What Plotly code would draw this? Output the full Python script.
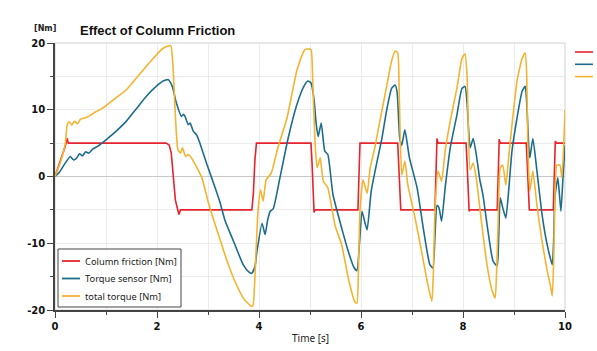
import plotly.graph_objects as go

# ---------------- data ----------------
t_friction = [0, 0.05, 0.12, 0.2, 0.24, 0.26, 0.3, 2.18, 2.24, 2.28, 2.32, 2.36, 2.4, 2.43, 2.46,
              3.86, 3.89, 3.92, 3.95, 5.02, 5.04, 5.06, 5.08, 5.1, 5.94, 5.96, 5.98,
              6.72, 6.74, 6.76, 6.78, 7.45, 7.47, 7.49, 7.51, 8.06, 8.08, 8.1, 8.12, 8.14,
              8.67, 8.69, 8.71, 8.73, 9.24, 9.26, 9.28, 9.3, 9.77, 9.79, 9.81, 9.83, 10]
friction = [0, 1.1, 2.6, 4.5, 5.7, 5.0, 5.0, 5.0, 4.7, 3.5, 0, -3.5, -4.8, -5.7, -5.0,
            -5.0, -2.5, 2.5, 5.0, 5.0, 2.0, -2.0, -5.4, -5.0, -5.0, 0, 5.0,
            5.0, 2.0, -2.0, -5.0, -5.0, 0, 5.7, 5.0, 5.0, 2.0, -2.0, -5.2, -5.0,
            -5.0, 0, 5.6, 5.0, 5.0, 2.0, -2.0, -5.0, -5.0, 0, 5.3, 5.0, 5.0]

t_sensor = [0, 0.1, 0.2, 0.3, 0.36, 0.42, 0.48, 0.54, 0.6, 0.66, 0.74, 0.85, 1.0, 1.2, 1.4, 1.6,
            1.8, 2.0, 2.12, 2.22, 2.3, 2.38, 2.48, 2.52, 2.55, 2.61, 2.65, 2.71, 2.78, 2.85,
            2.98, 3.14, 3.24, 3.33, 3.5, 3.69, 3.8, 3.86, 3.92, 3.96, 4.06, 4.12, 4.17, 4.22,
            4.28, 4.41, 4.57, 4.74, 4.88, 4.96, 5.02, 5.08, 5.12, 5.16, 5.22, 5.29, 5.35, 5.45,
            5.62, 5.75, 5.86, 5.92, 5.97, 6.02, 6.08, 6.12, 6.2, 6.3, 6.41, 6.5, 6.6, 6.67,
            6.71, 6.76, 6.8, 6.86, 6.95, 7.1, 7.22, 7.35, 7.41, 7.45, 7.49, 7.53, 7.58, 7.65,
            7.75, 7.88, 7.98, 8.04, 8.08, 8.14, 8.2, 8.27, 8.33, 8.39, 8.49, 8.59, 8.67, 8.7,
            8.73, 8.78, 8.84, 8.9, 8.96, 9.06, 9.16, 9.22, 9.25, 9.29, 9.31, 9.37, 9.45, 9.55,
            9.65, 9.75, 9.78, 9.8, 9.86, 9.92, 9.96, 10]
sensor = [0, 0.8, 2.0, 3.0, 2.5, 2.7, 3.4, 3.1, 3.7, 3.5, 4.1, 4.6, 5.5, 6.8, 8.3, 10.2,
          12.1, 13.6, 14.3, 14.5, 13.5, 11.0, 9.0, 9.3, 9.0, 7.8, 8.0, 6.8, 6.2, 4.8,
          1.8, -1.7, -4.0, -6.5, -9.7, -13.2, -14.3, -14.5, -13.5, -11.2, -7.0, -8.7, -6.5, -5.2,
          -4.8, -0.2, 5.7, 10.7, 13.5, 14.3, 14.0, 11.5, 8.0, 6.0, 8.0, 3.8, 3.3, -2.7,
          -7.7, -11.2, -13.6, -14.1, -10.0, -5.2, -7.0, -8.0, -2.2, 1.7, 5.7, 9.8, 13.2, 13.7,
          12.5, 5.7, 4.7, 7.0, 2.8, -1.7, -7.7, -13.2, -13.7, -9.0, -4.3, -4.7, -6.7, -1.7,
          4.3, 9.2, 13.2, 13.5, 11.0, 4.3, 5.7, 2.8, -0.5, -2.7, -8.2, -12.7, -13.4, -9.0,
          -3.2, -4.7, -6.2, -1.7, 3.8, 8.8, 12.8, 13.5, 11.0, 4.3, 2.8, 5.7, 0.8, -5.7,
          -10.2, -13.2, -9.0, -3.2, -0.2, -5.2, -0.2, 4.7]

t_total = [0, 0.1, 0.2, 0.24, 0.28, 0.33, 0.38, 0.44, 0.5, 0.6, 0.7, 0.8, 0.9, 1.0, 1.2, 1.4,
           1.6, 1.8, 2.0, 2.1, 2.2, 2.27, 2.31, 2.35, 2.41, 2.46, 2.5, 2.56, 2.62, 2.7, 2.88,
           3.0, 3.14, 3.24, 3.33, 3.5, 3.7, 3.84, 3.88, 3.92, 3.98, 4.03, 4.08, 4.14, 4.24,
           4.37, 4.55, 4.74, 4.88, 4.94, 5.02, 5.05, 5.1, 5.14, 5.2, 5.26, 5.35, 5.49, 5.62,
           5.75, 5.88, 5.92, 5.95, 5.98, 6.04, 6.12, 6.18, 6.27, 6.37, 6.47, 6.6, 6.67, 6.72,
           6.75, 6.8, 6.86, 6.92, 7.06, 7.2, 7.31, 7.39, 7.42, 7.45, 7.51, 7.58, 7.65, 7.75,
           7.88, 7.98, 8.04, 8.08, 8.14, 8.2, 8.26, 8.3, 8.37, 8.47, 8.57, 8.63, 8.66, 8.69,
           8.73, 8.78, 8.84, 8.9, 8.96, 9.06, 9.16, 9.22, 9.25, 9.27, 9.31, 9.37, 9.45, 9.55,
           9.65, 9.71, 9.75, 9.78, 9.8, 9.84, 9.9, 9.94, 10]
total = [0, 2.0, 4.8, 7.8, 8.2, 7.7, 8.3, 7.9, 8.6, 8.8, 9.2, 9.7, 10.1, 10.6, 11.8, 13.0,
         14.8, 16.6, 18.3, 19.1, 19.5, 19.6, 17.0, 10.7, 4.0, 3.5, 4.3, 3.0, 3.3, 2.5, -0.2,
         -3.7, -7.2, -9.5, -11.7, -15.2, -18.3, -19.4, -19.4, -15.0, -5.2, -2.0, -3.7, -0.5, 0.5,
         4.3, 8.8, 15.8, 18.8, 19.1, 19.0, 15.0, 5.0, 1.3, 2.8, -0.7, -1.7, -7.3, -10.2,
         -15.2, -18.8, -19.0, -14.0, -5.2, -0.5, -2.5, 1.3, 4.3, 8.3, 12.2, 17.3, 18.8, 18.5,
         12.0, 0.2, 2.3, -1.3, -6.2, -11.7, -16.2, -18.7, -14.0, -5.2, 0.8, -0.7, 3.8, 8.3,
         13.2, 17.7, 18.4, 15.0, 1.0, 2.0, -0.2, -2.7, -7.3, -13.2, -17.1, -18.2, -14.0, -6.7,
         1.3, 1.7, -1.3, 3.2, 7.7, 14.3, 17.7, 18.5, 15.0, 5.0, -2.2, 0.8, -4.3, -9.7,
         -14.1, -16.2, -17.9, -12.0, -4.3, 1.7, 1.7, -0.2, 10.0]

series_names = ["Column friction [Nm]", "Torque sensor [Nm]", "total torque [Nm]"]
series_colors = ["#E5242E", "#1E6C8C", "#F4B330"]

y_ticks = [-20, -10, 0, 10, 20]
x_ticks = [0, 2, 4, 6, 8, 10]

# ---------------- figure ----------------
W, H = 597, 351
ML, MR, MT, MB = 55, 32, 43, 41
pw, ph = W - ML - MR, H - MT - MB


def px(x):
    return (x - ML) / pw


def py(y):
    return (H - MB - y) / ph


fig = go.Figure()
for tx, ty, name, col, shape in zip([t_friction, t_sensor, t_total], [friction, sensor, total],
                                    series_names, series_colors, ["linear", "spline", "spline"]):
    fig.add_trace(go.Scatter(x=tx, y=ty, mode="lines", name=name, showlegend=False,
                             line=dict(color=col, width=1.6, shape=shape, smoothing=0.5)))

tick_font = dict(family="DejaVu Sans", size=10, color="#111111")

annotations = [
    dict(text="<b>Effect of Column Friction</b>", x=px(78), y=py(31),
         font=dict(family="Liberation Sans", size=13, color="#111111"),
         xanchor="left", yanchor="middle"),
    dict(text="<b>[Nm]</b>", x=px(32), y=py(28),
         font=dict(family="DejaVu Sans", size=8, color="#222222"),
         xanchor="left", yanchor="middle"),
    dict(text="Time [s]", x=0.5, y=py(338),
         font=dict(family="Noto Sans", size=10, color="#222222"),
         xanchor="center", yanchor="middle"),
]
shapes = [
    # light frame on top/right
    dict(type="rect", x0=0, y0=0, x1=1, y1=1, line=dict(color="#D0D0D0", width=1), layer="below"),
    # legend box
    dict(type="rect", x0=px(58), x1=px(181), y0=py(307), y1=py(249),
         fillcolor="white", line=dict(color="#444444", width=1), layer="above"),
]
for i, (name, col) in enumerate(zip(series_names, series_colors)):
    yy = 261 + 17.5 * i
    shapes.append(dict(type="line", x0=px(62), x1=px(80), y0=py(yy), y1=py(yy),
                       line=dict(color=col, width=1.8)))
    annotations.append(dict(text=name, x=px(83), y=py(yy), xanchor="left", yanchor="middle",
                            font=dict(family="Noto Sans", size=9.3, color="#222222")))
    # small colour keys at the right edge
    yk = 52 + 12.3 * i
    shapes.append(dict(type="line", x0=px(575), x1=px(593), y0=py(yk), y1=py(yk),
                       line=dict(color=col, width=1.6)))

for a in annotations:
    a.update(xref="paper", yref="paper", showarrow=False)
for s in shapes:
    s.update(xref="paper", yref="paper")

fig.update_layout(
    width=W, height=H,
    margin=dict(l=ML, r=MR, t=MT, b=MB),
    paper_bgcolor="white", plot_bgcolor="white",
    showlegend=False,
    annotations=annotations,
    shapes=shapes,
)

fig.update_xaxes(
    range=[0, 10], tickvals=x_ticks, ticktext=[f"<b>{v}</b>" for v in x_ticks],
    tickfont=tick_font, ticks="outside", ticklen=6, tickcolor="#444444", tickwidth=1,
    showline=True, linecolor="#444444", linewidth=1.5,
    showgrid=True, gridcolor="#EBEBEB", gridwidth=1, zeroline=False,
    minor=dict(dtick=1, tick0=0, ticks="outside", ticklen=3, tickcolor="#444444",
               showgrid=True, gridcolor="#EBEBEB", gridwidth=1),
)
fig.update_yaxes(
    range=[-20, 20], tickvals=y_ticks, ticktext=[f"<b>{v}</b>" for v in y_ticks],
    tickfont=tick_font, ticks="outside", ticklen=6, tickcolor="#444444", tickwidth=1,
    showline=True, linecolor="#444444", linewidth=1.5,
    showgrid=True, gridcolor="#EBEBEB", gridwidth=1,
    zeroline=True, zerolinecolor="#C8C8C8", zerolinewidth=1,
    minor=dict(dtick=5, tick0=0, ticks="outside", ticklen=3, tickcolor="#444444",
               showgrid=True, gridcolor="#EBEBEB", gridwidth=1),
)

fig.write_html("out.html")
